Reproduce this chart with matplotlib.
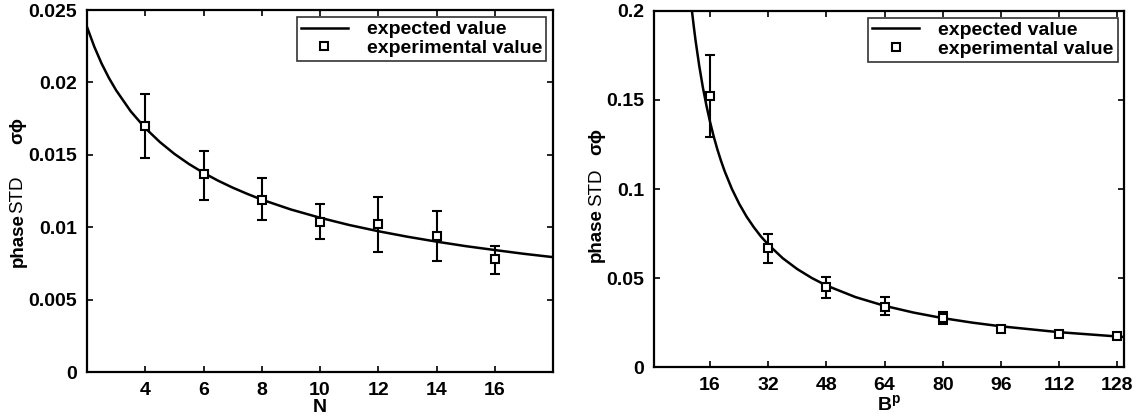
import matplotlib
matplotlib.use('Agg')
import matplotlib.pyplot as plt
from matplotlib.lines import Line2D
from matplotlib.ticker import FuncFormatter

plt.rcParams['font.family'] = ['Liberation Sans', 'DejaVu Sans']
plt.rcParams['font.weight'] = 'bold'
plt.rcParams['mathtext.fontset'] = 'custom'
plt.rcParams['mathtext.bf'] = 'Liberation Sans:bold'

# left panel: std vs number of samples N
n_exp      = [4, 6, 8, 10, 12, 14, 16]
std_n_exp  = [0.0170, 0.0137, 0.0119, 0.0104, 0.0102, 0.0094, 0.0078]
std_n_lo   = [0.0148, 0.0119, 0.0105, 0.0092, 0.0083, 0.0077, 0.0068]
std_n_hi   = [0.0192, 0.0153, 0.0134, 0.0116, 0.0121, 0.0111, 0.0087]
n_curve    = [2, 2.25, 2.5, 2.75, 3, 3.5, 4, 4.5, 5, 5.5, 6, 6.5, 7, 7.5, 8,
              9, 10, 11, 12, 13, 14, 15, 16, 17, 18]
std_n_curve = [0.02383, 0.02247, 0.02131, 0.02032, 0.01946, 0.01801, 0.01685,
               0.01589, 0.01507, 0.01437, 0.01376, 0.01322, 0.01274, 0.01231,
               0.01191, 0.01123, 0.01066, 0.01016, 0.00973, 0.00935, 0.00901,
               0.00870, 0.00843, 0.00817, 0.00794]

# right panel: std vs B^p
b_exp      = [16, 32, 48, 64, 80, 96, 112, 128]
std_b_exp  = [0.152, 0.0667, 0.0451, 0.0339, 0.0278, 0.0212, 0.0185, 0.0172]
std_b_lo   = [0.129, 0.0582, 0.0389, 0.0290, 0.0240, 0.0195, 0.0172, 0.0160]
std_b_hi   = [0.175, 0.0745, 0.0507, 0.0391, 0.0312, 0.0228, 0.0198, 0.0184]
b_curve    = [10, 10.5, 11, 11.5, 12, 13, 14, 15, 16, 17, 18, 19, 20, 22, 24,
              26, 28, 30, 32, 36, 40, 44, 48, 56, 64, 72, 80, 88, 96, 112, 130]
std_b_curve = [0.2200, 0.2095, 0.2000, 0.1913, 0.1833, 0.1692, 0.1571, 0.1467,
               0.1375, 0.1294, 0.1222, 0.1158, 0.1100, 0.1000, 0.0917, 0.0846,
               0.0786, 0.0733, 0.0688, 0.0611, 0.0550, 0.0500, 0.0458, 0.0393,
               0.0344, 0.0306, 0.0275, 0.0250, 0.0229, 0.0196, 0.0169]


def panel(ax, xc, yc, xe, ye, lo, hi):
    ax.plot(xc, yc, 'k-', lw=1.8, solid_joinstyle='round')
    err = [[y - l for y, l in zip(ye, lo)], [h - y for y, h in zip(ye, hi)]]
    ax.errorbar(xe, ye, yerr=err, fmt='s', mfc='white', mec='k', ms=6, mew=1.5,
                ecolor='k', elinewidth=1.5, capsize=3.5, capthick=1.5)
    ax.tick_params(direction='in', top=True, right=True, length=4, width=1.2,
                   labelsize=14, pad=7)
    for s in ax.spines.values():
        s.set_linewidth(1.6)
    ax.yaxis.set_major_formatter(FuncFormatter(lambda v, p: '%g' % round(v, 6)))
    h = [Line2D([], [], color='k', lw=1.8),
         Line2D([], [], ls='none', marker='s', mfc='white', mec='k', ms=6, mew=1.5)]
    leg = ax.legend(h, ['expected value', 'experimental value'], loc='upper right',
                    prop={'size': 14, 'weight': 'bold'}, frameon=True,
                    fancybox=False, edgecolor='k', borderaxespad=0.35,
                    handlelength=2.4, borderpad=0.2, labelspacing=0.05,
                    handletextpad=1.0)
    leg.get_frame().set_linewidth(1.2)


fig = plt.figure(figsize=(11.45, 4.2), dpi=100)
ax1 = fig.add_axes([0.076, 0.114, 0.407, 0.862])
ax2 = fig.add_axes([0.571, 0.126, 0.411, 0.848])

panel(ax1, n_curve, std_n_curve, n_exp, std_n_exp, std_n_lo, std_n_hi)
ax1.set_xlim(2, 18)
ax1.set_ylim(0, 0.025)
ax1.set_xticks([4, 6, 8, 10, 12, 14, 16])
ax1.set_yticks([0, 0.005, 0.01, 0.015, 0.02, 0.025])
ax1.set_xlabel('N', fontsize=14, fontweight='bold', labelpad=0)

panel(ax2, b_curve, std_b_curve, b_exp, std_b_exp, std_b_lo, std_b_hi)
ax2.set_xlim(0.5, 130)
ax2.set_ylim(0, 0.2)
ax2.set_xticks(b_exp)
ax2.set_yticks([0, 0.05, 0.1, 0.15, 0.2])
ax2.set_xlabel(r'B$^{\mathbf{p}}$', fontsize=14, fontweight='bold', labelpad=0)

# y labels made of pieces: bold "phase", plain "STD", symbol part
for x, ys in [(0.0157, (0.429, 0.537, 0.690)), (0.521, (0.440, 0.554, 0.663))]:
    fig.text(x, ys[0], 'phase', rotation=90, ha='center', va='center',
             fontsize=13.5, fontweight='bold')
    fig.text(x, ys[1], 'STD', rotation=90, ha='center', va='center',
             fontsize=13.5, fontweight='normal')
    fig.text(x, ys[2], 'σϕ', rotation=90, ha='center', va='center',
             fontsize=13.5, fontweight='bold')

fig.savefig('out.png', dpi=100)
